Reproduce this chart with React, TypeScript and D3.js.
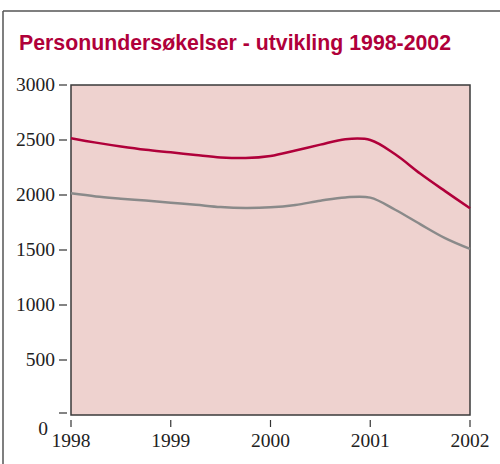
import React from "react";
import * as d3 from "d3";

const title = "Personundersøkelser - utvikling 1998-2002";
const quarters = [1998, 1998.25, 1998.5, 1998.75, 1999, 1999.25, 1999.5, 1999.75, 2000, 2000.25, 2000.5, 2000.75, 2001, 2001.25, 2001.5, 2001.75, 2002];
const redSeries = [2515, 2476, 2441, 2411, 2388, 2364, 2342, 2336, 2355, 2405, 2458, 2507, 2500, 2370, 2195, 2035, 1880];
const graySeries = [2015, 1987, 1967, 1949, 1930, 1911, 1890, 1882, 1888, 1910, 1948, 1978, 1976, 1866, 1735, 1608, 1510];
const yTicks = [0, 500, 1000, 1500, 2000, 2500, 3000];
const xTicks = [1998, 1999, 2000, 2001, 2002];

export default function App() {
  const W = 500, H = 464;
  const x = d3.scaleLinear().domain([1998, 2002]).range([71, 470]);
  const y = d3.scaleLinear().domain([0, 3000]).range([415, 85]);
  const line = d3.line<number>().x((_, i) => x(quarters[i])).y(d => y(d)).curve(d3.curveCatmullRom.alpha(0.5));
  const red = "#B0003A";
  const gray = "#8a8a8a";
  return (
    <svg width={W} height={H} style={{ position: "absolute", left: 0, top: 0, background: "#fff" }}>
      <line x1={3} x2={500} y1={11} y2={11} stroke="#555" strokeWidth={1.5} />
      <line x1={3} x2={3} y1={11} y2={464} stroke="#555" strokeWidth={1.5} />
      <text x={19} y={50} fill={red} fontFamily="Liberation Sans, Arial, sans-serif" fontWeight="bold" fontSize={21.3}>{title}</text>
      <rect x={x(1998)} y={y(3000)} width={x(2002) - x(1998)} height={y(0) - y(3000)} fill="#EED2CF" stroke="#3a3a3a" strokeWidth={1.5} />
      <path d={line(graySeries) || ""} fill="none" stroke={gray} strokeWidth={2.5} />
      <path d={line(redSeries) || ""} fill="none" stroke={red} strokeWidth={2.5} />
      {yTicks.map(t => (
        <g key={t}>
          <line x1={59} x2={67} y1={y(t) - (t === 0 ? 2 : 0)} y2={y(t) - (t === 0 ? 2 : 0)} stroke="#333" strokeWidth={1.2} />
          <text x={t === 0 ? 48 : 55} y={t === 0 ? y(t) + 20 : y(t) + 6} textAnchor="end" fontFamily="Liberation Serif, Times New Roman, serif" fontSize={19.5} fill="#222">{t}</text>
        </g>
      ))}
      {xTicks.map(t => (
        <g key={t}>
          <line x1={x(t)} x2={x(t)} y1={420} y2={427} stroke="#333" strokeWidth={1.2} />
          <text x={x(t)} y={447} textAnchor="middle" fontFamily="Liberation Serif, Times New Roman, serif" fontSize={19.5} fill="#222">{t}</text>
        </g>
      ))}
    </svg>
  );
}
